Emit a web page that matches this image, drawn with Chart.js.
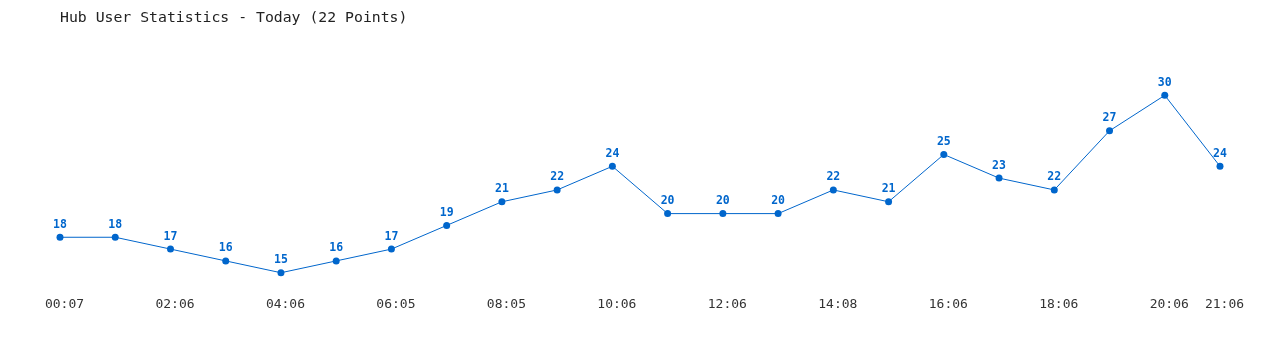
<!DOCTYPE html>
<html>
<head>
<meta charset="utf-8">
<script src="https://cdn.jsdelivr.net/npm/chart.js@4"></script>
<style>
  html, body { margin: 0; padding: 0; background: #fff; }
  #wrap { position: relative; width: 1280px; height: 350px; }
</style>
</head>
<body>
<div id="wrap"><canvas id="c" width="1280" height="350"></canvas></div>
<script>
const chartTitle = "Hub User Statistics - Today (22 Points)";
const times = ["00:07","01:06","02:06","03:06","04:06","05:06","06:05","07:05","08:05","09:06","10:06",
               "11:06","12:06","13:06","14:08","15:06","16:06","17:06","18:06","19:06","20:06","21:06"];
const users = [18,18,17,16,15,16,17,19,21,22,24,20,20,20,22,21,25,23,22,27,30,24];
const shownTickIndices = [0,2,4,6,8,10,12,14,16,18,20,21];

const blue = "#0066cc";
const mono = "'DejaVu Sans Mono', 'Liberation Mono', monospace";

const pointLabels = {
  id: "pointLabels",
  afterDatasetsDraw(chart) {
    const ctx = chart.ctx;
    const meta = chart.getDatasetMeta(0);
    ctx.save();
    ctx.font = "bold 11.5px " + mono;
    ctx.fillStyle = blue;
    ctx.textAlign = "center";
    ctx.textBaseline = "middle";
    meta.data.forEach((pt, i) => {
      ctx.fillText(String(users[i]), pt.x, pt.y - 12.5);
    });
    ctx.restore();
  }
};

const titlePlugin = {
  id: "leftTitle",
  afterDraw(chart) {
    const ctx = chart.ctx;
    ctx.save();
    ctx.font = "14.8px " + mono;
    ctx.fillStyle = "#222";
    ctx.textAlign = "left";
    ctx.textBaseline = "middle";
    ctx.fillText(chartTitle, 60, 18.5);
    ctx.restore();
  }
};

new Chart(document.getElementById("c"), {
  type: "line",
  data: {
    labels: times,
    datasets: [{
      data: users,
      borderColor: blue,
      backgroundColor: blue,
      borderWidth: 1,
      pointRadius: 3.5,
      pointBackgroundColor: blue,
      pointBorderWidth: 0,
      tension: 0,
      fill: false
    }]
  },
  options: {
    responsive: false,
    animation: false,
    layout: { padding: { left: 60, right: 60, top: 48, bottom: 38 } },
    plugins: { legend: { display: false }, title: { display: false }, tooltip: { enabled: false } },
    scales: {
      x: {
        offset: false,
        grid: { display: false, drawTicks: false },
        border: { display: false },
        ticks: {
          autoSkip: false,
          maxRotation: 0,
          padding: 0,
          labelOffset: 4.5,
          color: "#333",
          font: { family: mono, size: 13 },
          callback: (v, i) => shownTickIndices.includes(i) ? times[i] : ""
        }
      },
      y: {
        display: false,
        min: 13,
        max: 34
      }
    }
  },
  plugins: [pointLabels, titlePlugin]
});
</script>
</body>
</html>
